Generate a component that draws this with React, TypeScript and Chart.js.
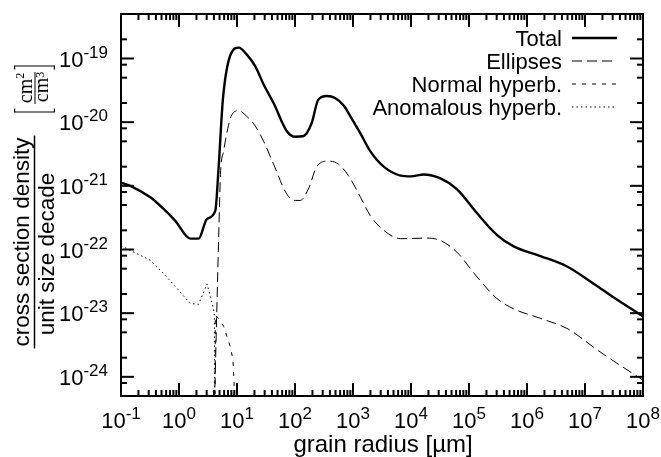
import React, { useEffect, useRef } from "react";
import { Chart, registerables } from "chart.js";

Chart.register(...registerables);

// ---- data (grain radius in µm, cross section density in cm^2/cm^3) ----
const totalRadius = [0.1, 0.1445, 0.32, 0.509, 0.863, 1.567, 2.178, 3.04, 4.227, 4.82, 5.74, 7.89, 10.72, 14.79, 20.7, 28.8, 42.7, 72.4, 101, 138, 195, 251, 355, 490, 692, 891, 1349, 1995, 3388, 6607, 1e4, 16600, 31600, 61700, 138000, 302000, 589000, 1.7e6, 4.9e6, 1.41e7, 3.09e7, 1e8];
const totalDensity = [1.12e-21, 1.0e-21, 6.6e-22, 4.57e-22, 2.82e-22, 1.48e-22, 1.48e-22, 3.02e-22, 4.07e-22, 1.95e-21, 2.4e-20, 1.2e-19, 1.48e-19, 1.15e-19, 7.5e-20, 3.9e-20, 2.0e-20, 7.2e-21, 5.9e-21, 6.0e-21, 9.8e-21, 2.24e-20, 2.57e-20, 2.4e-20, 1.82e-20, 1.26e-20, 6.6e-21, 3.47e-21, 2.0e-21, 1.45e-21, 1.41e-21, 1.51e-21, 1.32e-21, 8.9e-22, 3.7e-22, 1.7e-22, 1.12e-22, 7.9e-23, 5.4e-23, 2.9e-23, 1.78e-23, 8.9e-24];

const ellipsesRadius = [4.1, 4.9, 5.19, 5.89, 6.92, 7.89, 10.72, 14.79, 20.7, 28.8, 42.7, 72.4, 101, 123, 170, 240, 380, 562, 832, 1349, 1995, 3388, 6607, 19050, 32400, 61700, 138000, 302000, 589000, 1.7e6, 4.9e6, 8.9e6, 1.41e7, 3.09e7, 1e8];
const ellipsesDensity = [4e-25, 2.5e-22, 1.51e-21, 3.55e-21, 7.9e-21, 1.23e-20, 1.51e-20, 1.23e-20, 8.7e-21, 5.0e-21, 2.19e-21, 7.4e-22, 5.9e-22, 5.9e-22, 8.9e-22, 2.04e-21, 2.45e-21, 2.19e-21, 1.45e-21, 6.6e-22, 3.39e-22, 2.0e-22, 1.48e-22, 1.51e-22, 1.38e-22, 9.1e-23, 3.7e-23, 1.7e-23, 1.17e-23, 8.3e-24, 5.75e-24, 4.0e-24, 2.9e-24, 1.78e-24, 8.9e-25];

const normalRadius = [4.15, 4.23, 4.79, 5.89, 7.67, 8.51, 8.91, 9.1];
const normalDensity = [1e-26, 9.3e-24, 8.3e-24, 6.2e-24, 2.95e-24, 1.86e-24, 7.9e-25, 1e-26];

const anomalousRadius = [0.1, 0.166, 0.32, 0.617, 1.052, 1.567, 2.178, 3.04, 3.55, 4.07, 4.12];
const anomalousDensity = [1.15e-22, 9.1e-23, 6.8e-23, 3.7e-23, 2.14e-23, 1.41e-23, 1.38e-23, 2.88e-23, 1.7e-23, 1.0e-23, 1e-26];

const seriesLabels = ["Total", "Ellipses", "Normal hyperb.", "Anomalous hyperb."];

const xTickExponents = [-1, 0, 1, 2, 3, 4, 5, 6, 7, 8];
const yTickExponents = [-24, -23, -22, -21, -20, -19];
const xMinorMultiples = [2, 3, 4, 5, 6, 7, 8, 9];
const yMinorMultiples = [2, 5, 8];

const xTitle = "grain radius [µm]";
const yTitleTop = "cross section density";
const yTitleBottom = "unit size decade";
const unitBase = "cm";
const unitTopExp = "2";
const unitBottomExp = "3";

const SANS = '"Liberation Sans", Arial, Helvetica, sans-serif';
const SERIF = '"Liberation Serif", "Times New Roman", serif';

function toPoints(xs: number[], ys: number[]) {
  return xs.map((x, i) => ({ x, y: ys[i] }));
}

function expLabel(e: number) {
  return e < 0 ? "-" + String(-e) : String(e);
}

const decorPlugin = {
  id: "gnuplotDecor",
  afterDraw(chart: any) {
    const { ctx, chartArea: a, scales } = chart;
    const xs = scales.x;
    const ys = scales.y;
    ctx.save();
    ctx.strokeStyle = "#000";
    ctx.fillStyle = "#000";
    ctx.lineCap = "butt";

    const seg = (x1: number, y1: number, x2: number, y2: number) => {
      ctx.beginPath();
      ctx.moveTo(x1, y1);
      ctx.lineTo(x2, y2);
      ctx.stroke();
    };

    const MAJ = 13;
    const MIN = 6;
    ctx.lineWidth = 2;
    // x ticks (bottom + mirrored top)
    xTickExponents.forEach((e) => {
      const v = Math.pow(10, e);
      const px = xs.getPixelForValue(v);
      seg(px, a.bottom, px, a.bottom - MAJ);
      seg(px, a.top, px, a.top + MAJ);
      if (e < 8) {
        xMinorMultiples.forEach((m) => {
          const q = xs.getPixelForValue(m * v);
          seg(q, a.bottom, q, a.bottom - MIN);
          seg(q, a.top, q, a.top + MIN);
        });
      }
    });
    // y ticks (left + mirrored right)
    const yMin = ys.min;
    const yMax = ys.max;
    const yt: { v: number; major: boolean }[] = [];
    for (let e = -25; e <= -19; e++) {
      const v = Math.pow(10, e);
      if (yTickExponents.includes(e)) yt.push({ v, major: true });
      yMinorMultiples.forEach((m) => yt.push({ v: m * v, major: false }));
    }
    yt.forEach((t) => {
      if (t.v <= yMin * 1.0001 || t.v >= yMax * 0.9999) return;
      const py = ys.getPixelForValue(t.v);
      const L = t.major ? MAJ : MIN;
      seg(a.left, py, a.left + L, py);
      seg(a.right, py, a.right - L, py);
    });

    // frame
    ctx.lineWidth = 2;
    ctx.strokeRect(a.left, a.top, a.right - a.left, a.bottom - a.top);

    // tick labels
    const baseFont = "22px " + SANS;
    const expFont = "17px " + SANS;
    ctx.textBaseline = "alphabetic";
    ctx.textAlign = "left";
    const drawPow = (x0: number, base: number, e: number) => {
      ctx.font = baseFont;
      ctx.fillText("10", x0, base);
      const w = ctx.measureText("10").width;
      ctx.font = expFont;
      ctx.fillText(expLabel(e), x0 + w, base - 9);
    };
    const powWidth = (e: number) => {
      ctx.font = baseFont;
      const w1 = ctx.measureText("10").width;
      ctx.font = expFont;
      return w1 + ctx.measureText(expLabel(e)).width;
    };
    xTickExponents.forEach((e) => {
      const px = xs.getPixelForValue(Math.pow(10, e));
      const w = powWidth(e);
      drawPow(px - w / 2, a.bottom + 32, e);
    });
    yTickExponents.forEach((e) => {
      const py = ys.getPixelForValue(Math.pow(10, e));
      const w = powWidth(e);
      drawPow(a.left - 13 - w, py + 8, e);
    });

    // legend (text right aligned, sample to the right)
    chart.data.datasets.forEach((ds: any, i: number) => {
      const rowY = 38 + 23 * i;
      ctx.font = "22px " + SANS;
      ctx.textAlign = "right";
      ctx.fillText(ds.label, 562, rowY + 8);
      ctx.save();
      ctx.lineWidth = ds.borderWidth;
      ctx.setLineDash(ds.borderDash || []);
      seg(572, rowY, 617, rowY);
      ctx.restore();
    });

    // x title
    ctx.font = "24px " + SANS;
    ctx.textAlign = "center";
    ctx.fillText(xTitle, (a.left + a.right) / 2 + 1, 452);

    // y title: fraction, rotated
    ctx.save();
    ctx.translate(0, 0);
    ctx.rotate(-Math.PI / 2);
    ctx.font = "22.5px " + SANS;
    ctx.textAlign = "center";
    ctx.fillText(yTitleTop, -242, 29);
    ctx.fillText(yTitleBottom, -254, 54);
    const wTop = ctx.measureText(yTitleTop).width;
    ctx.restore();
    ctx.lineWidth = 1.5;
    seg(34.5, 242 - wTop / 2 - 2, 34.5, 242 + wTop / 2 + 2);

    // unit bracket [cm^2 / cm^3]
    const uy = 89;
    ctx.lineWidth = 1.2;
    seg(14, 112, 55, 112);
    seg(14.6, 112, 14.6, 108.5);
    seg(54.4, 112, 54.4, 108.5);
    seg(14, 66, 55, 66);
    seg(14.6, 66, 14.6, 69.5);
    seg(54.4, 66, 54.4, 69.5);
    ctx.lineWidth = 1;
    seg(35, 72, 35, 104);
    ctx.save();
    ctx.translate(0, uy);
    ctx.rotate(-Math.PI / 2);
    ctx.textAlign = "left";
    ctx.font = "20px " + SERIF;
    const wcm = ctx.measureText(unitBase).width;
    ctx.font = "12px " + SERIF;
    const wsup = ctx.measureText(unitTopExp).width;
    const start = -(wcm + wsup) / 2 + 2;
    ctx.font = "20px " + SERIF;
    ctx.fillText(unitBase, start - 1, 31.5);
    ctx.fillText(unitBase, start, 48);
    ctx.font = "12px " + SERIF;
    ctx.fillText(unitTopExp, start - 1 + wcm, 24);
    ctx.fillText(unitBottomExp, start + wcm, 43.5);
    ctx.restore();

    ctx.restore();
  },
};

export default function App() {
  const ref = useRef<HTMLCanvasElement | null>(null);
  useEffect(() => {
    if (!ref.current) return;
    const chart = new Chart(ref.current, {
      type: "line",
      data: {
        datasets: [
          {
            label: seriesLabels[0],
            data: toPoints(totalRadius, totalDensity),
            borderColor: "#000",
            borderWidth: 2.4,
            pointRadius: 0,
            fill: false,
            cubicInterpolationMode: "monotone",
          },
          {
            label: seriesLabels[1],
            data: toPoints(ellipsesRadius, ellipsesDensity),
            borderColor: "#000",
            borderWidth: 1,
            borderDash: [10, 5],
            pointRadius: 0,
            fill: false,
            cubicInterpolationMode: "monotone",
          },
          {
            label: seriesLabels[2],
            data: toPoints(normalRadius, normalDensity),
            borderColor: "#000",
            borderWidth: 1,
            borderDash: [4, 6],
            pointRadius: 0,
            fill: false,
            tension: 0,
          },
          {
            label: seriesLabels[3],
            data: toPoints(anomalousRadius, anomalousDensity),
            borderColor: "#000",
            borderWidth: 1,
            borderDash: [1.5, 3],
            pointRadius: 0,
            fill: false,
            tension: 0,
          },
        ],
      } as any,
      options: {
        responsive: false,
        animation: false,
        events: [],
        layout: { padding: { left: 121, top: 14, right: 18, bottom: 61 } },
        scales: {
          x: { type: "logarithmic", min: 0.1, max: 1e8, display: false },
          y: { type: "logarithmic", min: 5e-25, max: 5e-19, display: false },
        },
        plugins: {
          legend: { display: false },
          tooltip: { enabled: false },
          title: { display: false },
        },
      } as any,
      plugins: [decorPlugin],
    });
    return () => chart.destroy();
  }, []);
  return (
    <div style={{ position: "absolute", left: 0, top: 0, width: 661, height: 457, background: "#fff" }}>
      <canvas ref={ref} width={661} height={457} style={{ display: "block" }} />
    </div>
  );
}
